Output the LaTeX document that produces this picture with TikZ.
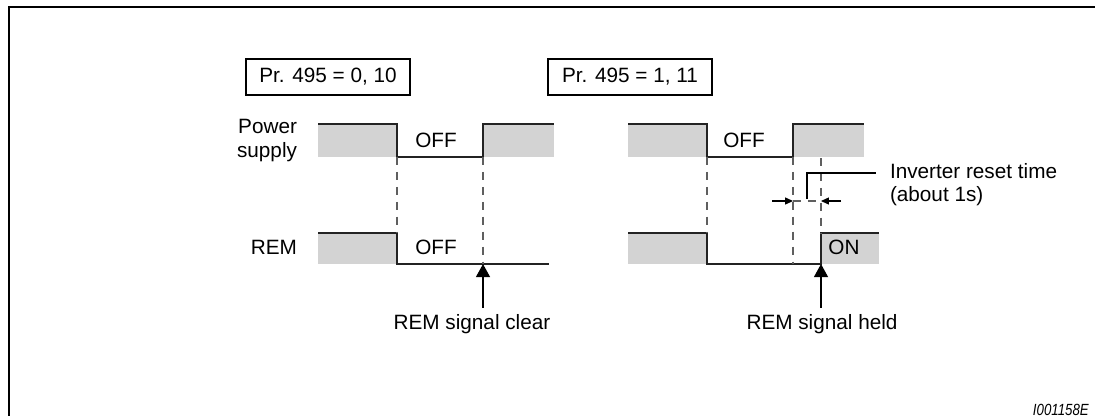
\documentclass[tikz,border=0pt]{standalone}
\usepackage{fontspec}
\setmainfont{Liberation Sans}
\usetikzlibrary{arrows.meta,positioning}
\definecolor{sigfill}{RGB}{211,211,211}
\definecolor{sigline}{RGB}{35,35,35}
\definecolor{guidegray}{RGB}{95,95,95}

\begin{document}
\begin{tikzpicture}[
    x=0.02cm, y=-0.02cm,
    txt/.style={font=\fontsize{11.8}{13.6}\selectfont, inner sep=0pt, outer sep=0pt},
    prbox/.style={rectangle, draw, line width=0.8pt, minimum width=3.28cm, minimum height=0.72cm, text centered, font=\fontsize{11.8}{13.6}\selectfont},
    sig/.style={draw=sigline, line width=1.2pt},
    guide/.style={draw=guidegray, line width=0.6pt, dash pattern=on 4.5pt off 4pt},
    arrow/.style={-{Triangle[length=7.5pt,width=8pt]}, line width=0.9pt, shorten <=3.5pt},
    dimarrow/.style={-{Triangle[length=4.5pt,width=4pt]}, line width=0.6pt}
]
    \useasboundingbox (0,0) rectangle (1095,416);
    \draw[line width=1.2pt] (1095,7) -- (9,7) -- (9,416);

    \node[prbox] (prA) at (328,77) {Pr. 495 = 0, 10};
    \node[prbox] (prB) at (630,77) {Pr. 495 = 1, 11};

    \node[txt, anchor=north east, align=right] (pwrlbl) at (297,119) {Power\\supply};
    \node[txt, anchor=base east] (remlbl) at (297,254) {REM};

    % left chart
    \fill[sigfill] (318,124) rectangle (397,157);
    \fill[sigfill] (483,124) rectangle (554,157);
    \draw[sig] (318,124) -- (397,124) -- (397,157) -- (483,157) -- (483,124) -- (554,124);
    \fill[sigfill] (318,233) rectangle (397,264);
    \draw[sig] (318,233) -- (397,233) -- (397,264) -- (549,264);
    \node[txt, anchor=base] (offA) at (436,147) {OFF};
    \node[txt, anchor=base] (offB) at (436,254) {OFF};

    \coordinate (pwrAoff) at (397,157);
    \coordinate (pwrAon) at (483,157);
    \coordinate (remAoff) at (397,233);
    \coordinate (remAclr) at (483,264);
    \draw[guide] (pwrAoff) -- (remAoff);
    \draw[guide] (pwrAon) -- (remAclr);

    \node[txt, anchor=base] (clearlbl) at (472,329) {REM signal clear};
    \draw[arrow] (clearlbl.north -| remAclr) -- (remAclr);

    % right chart
    \fill[sigfill] (628,124) rectangle (707,157);
    \fill[sigfill] (793,124) rectangle (864,157);
    \draw[sig] (628,124) -- (707,124) -- (707,157) -- (793,157) -- (793,124) -- (864,124);
    \fill[sigfill] (628,233) rectangle (707,264);
    \fill[sigfill] (821,233) rectangle (879,264);
    \draw[sig] (628,233) -- (707,233) -- (707,264) -- (821,264) -- (821,233) -- (879,233);
    \node[txt, anchor=base] (offC) at (744,147) {OFF};
    \node[txt, anchor=base] (onD) at (844,254) {ON};

    \coordinate (pwrBoff) at (707,157);
    \coordinate (pwrBon) at (793,157);
    \coordinate (pwrBrst) at (821,158);
    \coordinate (remBoff) at (707,233);
    \coordinate (remBlow) at (793,264);
    \coordinate (remBon) at (821,233);
    \coordinate (remBheld) at (821,264);
    \draw[guide] (pwrBoff) -- (remBoff);
    \draw[guide] (pwrBon) -- (remBlow);
    \draw[guide] (pwrBrst) -- (remBon);

    \coordinate (dimL) at (793,201);
    \coordinate (dimR) at (821,201);
    \coordinate (dimLtail) at (772,201);
    \coordinate (dimRtail) at (841,201);
    \draw[dimarrow] (dimLtail) -- (dimL);
    \draw[dimarrow] (dimRtail) -- (dimR);
    \draw[guide] (dimL) -- (dimR);

    \node[txt, anchor=north west, align=left] (resetlbl) at (890,163) {Inverter reset time\\(about 1s)};
    \coordinate (leadfoot) at (807,199);
    \draw[line width=0.6pt] (leadfoot) |- (876,173);

    \node[txt, anchor=base] (heldlbl) at (822,329) {REM signal held};
    \draw[arrow] (heldlbl.north -| remBheld) -- (remBheld);

    \node[anchor=base east, inner sep=0pt, font=\fontsize{9.2}{11}\selectfont\itshape, xscale=0.82] (figid) at (1089,415) {I001158E};
\end{tikzpicture}
\end{document}
